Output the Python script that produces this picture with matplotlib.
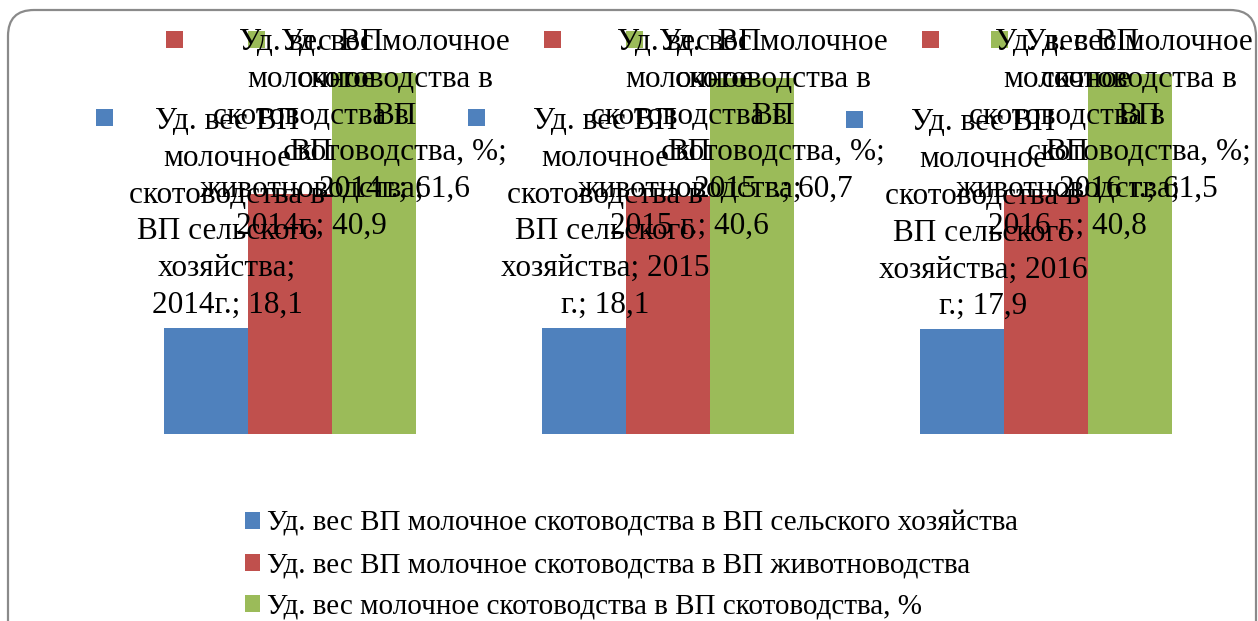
import textwrap
import numpy as np
import matplotlib.pyplot as plt
from matplotlib.patches import Rectangle, FancyBboxPatch
from matplotlib.transforms import IdentityTransform
from matplotlib.font_manager import FontProperties

#%% data
years = ['2014г.', '2015 г.', '2016 г.']
series_names = ['Уд. вес ВП молочное скотоводства в ВП сельского хозяйства',
                'Уд. вес ВП молочное скотоводства в ВП животноводства',
                'Уд. вес молочное скотоводства в ВП скотоводства, %']
share_agri = [18.1, 18.1, 17.9]
share_livestock = [40.9, 40.6, 40.8]
share_cattle = [61.6, 60.7, 61.5]
colors = ['#4F81BD', '#C0504D', '#9BBB59']

plt.rcParams['font.family'] = ['Liberation Serif', 'DejaVu Serif']

W, H = 1258, 621
fig = plt.figure(figsize=(W/100, H/100), dpi=100)
ax = fig.add_axes([101/W, (H-434)/H, 1134/W, 410/H])
ax.set_xlim(-0.5, 2.5)
ax.set_ylim(0, 70)
ax.axis('off')

x = np.arange(len(years))
bw = 0.222
values = [share_agri, share_livestock, share_cattle]
for i in range(3):
    ax.bar(x + (i-1)*bw, values[i], bw, color=colors[i], label=series_names[i],
           linewidth=0)

#%% data labels (excel style: key + wrapped "series; category; value")
renderer = fig.canvas.get_renderer()
lprop = FontProperties(family=['Liberation Serif'], size=22.5)
pitch = 36.8
ksz = 17
ident = IdentityTransform()
for i in range(3):
    name = series_names[i].replace(', %', ',\u00a0%')
    for j in range(3):
        v = values[i][j]
        txt = '%s; %s; %s' % (name, years[j], ('%.1f' % v).replace('.', ','))
        lines = textwrap.wrap(txt, 16)
        widths = [renderer.get_text_width_height_descent(s, lprop, ismath=False)[0]
                  for s in lines]
        tw = max(widths)
        xc, ytop = ax.transData.transform((x[j] + (i-1)*bw, v))
        ytop_img = H - ytop
        last_bl = ytop_img - 15
        first_bl = last_bl - (len(lines)-1)*pitch
        if first_bl < 50:
            first_bl = 50
        tx = xc + 21
        if tx + tw/2 > 1253:      # keep inside the chart area
            tx = 1253 - tw/2
        left = tx - tw/2 - 33
        kc = first_bl - 11
        fig.add_artist(Rectangle((left, H - kc - ksz/2), ksz, ksz,
                                 facecolor=colors[i], edgecolor='none',
                                 transform=ident))
        for k, s in enumerate(lines):
            fig.text(tx, H - (first_bl + k*pitch), s, transform=ident,
                     ha='center', va='baseline', fontproperties=lprop,
                     color='black')

#%% legend
fig.legend(loc='upper left', bbox_to_anchor=(245/W, 1 - 511/H), frameon=False,
           fontsize=21, handlelength=0.52, handleheight=0.52, handletextpad=0.25,
           labelspacing=0.53, borderpad=0, borderaxespad=0)

#%% frame
fig.add_artist(FancyBboxPatch((8, -40), 1248, H - 10 + 40,
                              boxstyle='round,pad=0,rounding_size=26',
                              facecolor='none', edgecolor='#8a8a8a',
                              linewidth=1.6, transform=ident))

plt.savefig('out.png', dpi=100)
